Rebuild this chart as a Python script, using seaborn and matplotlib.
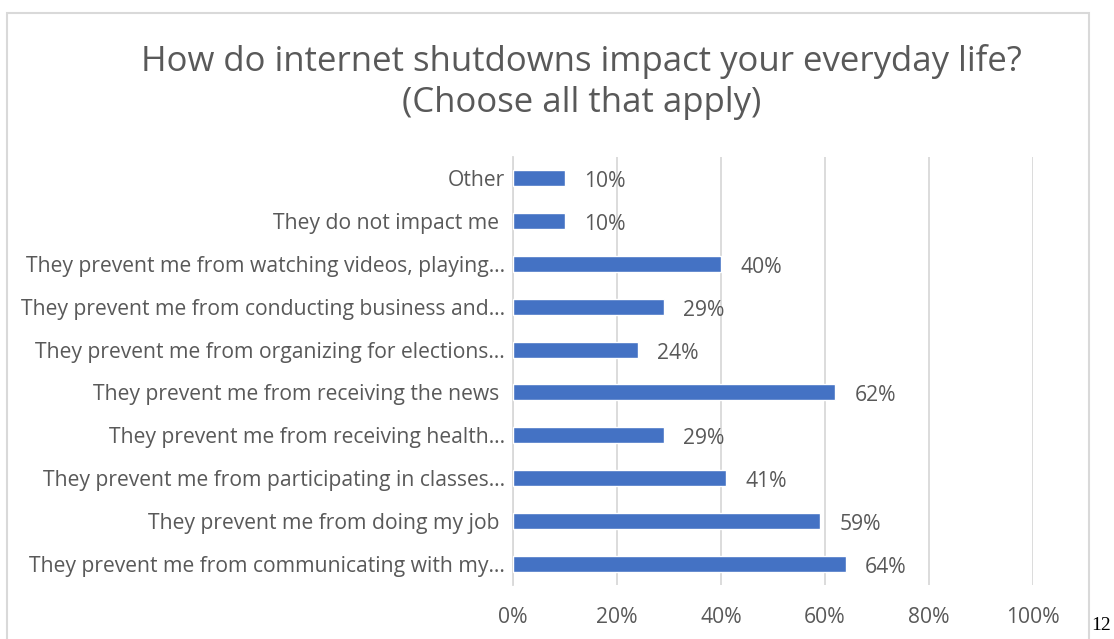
import matplotlib
matplotlib.use("Agg")
import matplotlib.pyplot as plt
import seaborn as sns
import pandas as pd
from matplotlib.patches import Rectangle

# Survey responses (share of respondents), top to bottom
categories = [
    "Other",
    "They do not impact me ",
    "They prevent me from watching videos, playing…",
    "They prevent me from conducting business and…",
    "They prevent me from organizing for elections…",
    "They prevent me from receiving the news ",
    "They prevent me from receiving health…",
    "They prevent me from participating in classes…",
    "They prevent me from doing my job ",
    "They prevent me from communicating with my…",
]
values = [10, 10, 40, 29, 24, 62, 29, 41, 59, 64]
x_ticks = [0, 20, 40, 60, 80, 100]
x_tick_labels = ["0%", "20%", "40%", "60%", "80%", "100%"]

title = "How do internet shutdowns impact your everyday life?\n(Choose all that apply)"

sns.set_theme(style="white")
plt.rcParams["font.family"] = ["Open Sans", "DejaVu Sans"]

text_gray = "#595959"
grid_gray = "#d9d9d9"
bar_blue = "#4472C4"
label_size = 15.2

df = pd.DataFrame({"category": categories, "value": values})

fig = plt.figure(figsize=(11.14, 6.39), dpi=100)
ax = fig.add_axes([513 / 1114, 1 - 585 / 639, 520 / 1114, 428 / 639])

sns.barplot(data=df, x="value", y="category", orient="h", color=bar_blue,
            width=0.37, saturation=1, ax=ax, zorder=3)

ax.set_xlim(0, 100)
ax.set_xticks(x_ticks)
ax.set_xticklabels(x_tick_labels)
ax.set_xlabel("")
ax.set_ylabel("")
ax.grid(axis="x", color=grid_gray, linewidth=1.3, zorder=0)
ax.grid(axis="y", visible=False)
for side in ["top", "right", "bottom"]:
    ax.spines[side].set_visible(False)
ax.spines["left"].set_color(grid_gray)
ax.spines["left"].set_linewidth(1.3)
ax.tick_params(axis="both", length=0, colors=text_gray, labelsize=label_size)
ax.tick_params(axis="x", pad=16)
ax.tick_params(axis="y", pad=6)

for container in ax.containers:
    texts = ax.bar_label(container, labels=[f"{v}%" for v in values], padding=14,
                         color=text_gray, fontsize=label_size)
    for t in texts:
        t.xyann = (t.xyann[0], -2.5)

fig.text(0.522, 1 - 82 / 639, title, ha="center", va="center",
         fontsize=25, color=text_gray, linespacing=1.3)

# Chart frame and page number
fig.patches.append(Rectangle((7 / 1114, -0.05), (1089 - 7) / 1114, 1.05 - 13 / 639,
                             transform=fig.transFigure, fill=False,
                             edgecolor=grid_gray, linewidth=1.5))
fig.text(1111 / 1114, 1 - 625 / 639, "12", fontsize=14,
         family=["Liberation Serif", "DejaVu Serif"], color="black",
         ha="right", va="center")

fig.savefig("out.png", dpi=100)
